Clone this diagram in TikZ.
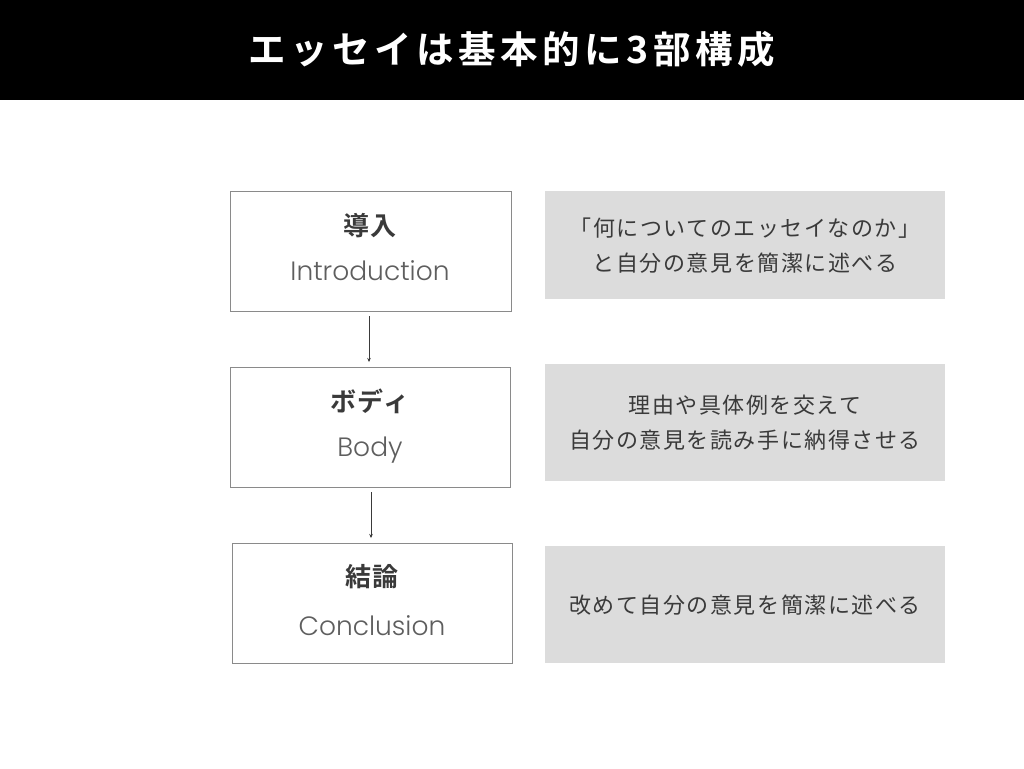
\documentclass[tikz,border=0pt]{standalone}
\usepackage{fontspec}
\newfontfamily\jpb[LetterSpace=12]{Noto Sans CJK JP Bold}
\newfontfamily\jpbb[LetterSpace=5]{Noto Sans CJK JP Bold}
\newfontfamily\jpr[LetterSpace=7]{Noto Sans CJK JP}
\newfontfamily\lat{Poppins Light}
\usetikzlibrary{arrows.meta}
\definecolor{boxline}{HTML}{8A8A8A}
\definecolor{grayfill}{HTML}{DCDCDC}
\definecolor{txt}{HTML}{3A3A3A}
\definecolor{lattxt}{HTML}{5E5E5E}
\tikzset{
  stagebox/.style={draw=boxline, line width=0.8pt, minimum width=280pt, minimum height=120pt, inner sep=0pt},
  notebox/.style={fill=grayfill, minimum width=400pt, inner sep=0pt},
  jptitle/.style={font=\fontsize{26}{30}\jpbb, text=txt},
  entitle/.style={font=\fontsize{26.5}{30}\lat, text=lattxt},
  notetext/.style={font=\fontsize{22}{35}\jpr, text=txt, align=center},
  conn/.style={draw=txt, line width=0.5pt, -{Stealth[length=4pt,width=3.5pt]}}
}
\begin{document}
\begin{tikzpicture}[x=1pt,y=-1pt]
\useasboundingbox (0,0) rectangle (1024,768);
\fill[white] (0,0) rectangle (1024,768);
\fill[black] (0,0) rectangle (1024,100);
\node[font=\fontsize{37.5}{40}\jpb, text=white] (title) at (512,49) {エッセイは基本的に3部構成};

\node[stagebox, minimum width=281pt] (b1) at (370.5,251) {};
\node[stagebox] (b2) at (370,427) {};
\node[stagebox] (b3) at (372,603) {};

\node[jptitle] (t1) at (370,226) {導入};
\node[entitle] (e1) at (370,271) {Introduction};
\node[jptitle] (t2) at (370,401) {ボディ};
\node[entitle] (e2) at (370,450) {Body};
\node[jptitle] (t3) at (372,577) {結論};
\node[entitle] (e3) at (372,626) {Conclusion};

\node[notebox, minimum height=108pt] (g1) at (745,245) {};
\node[notebox, minimum height=117pt] (g2) at (745,422.5) {};
\node[notebox, minimum height=117pt] (g3) at (745,604.5) {};

\node[notetext] (n1) at (745,246) {「何についてのエッセイなのか」\\と自分の意見を簡潔に述べる};
\node[notetext] (n2) at (745,423) {理由や具体例を交えて\\自分の意見を読み手に納得させる};
\node[notetext] (n3) at (745,605) {改めて自分の意見を簡潔に述べる};

\coordinate (a1s) at (369,316);
\coordinate (a1e) at (369,362);
\coordinate (a2s) at (371,492);
\coordinate (a2e) at (371,538);
\draw[conn] (a1s) -- (a1e);
\draw[conn] (a2s) -- (a2e);
\end{tikzpicture}
\end{document}
